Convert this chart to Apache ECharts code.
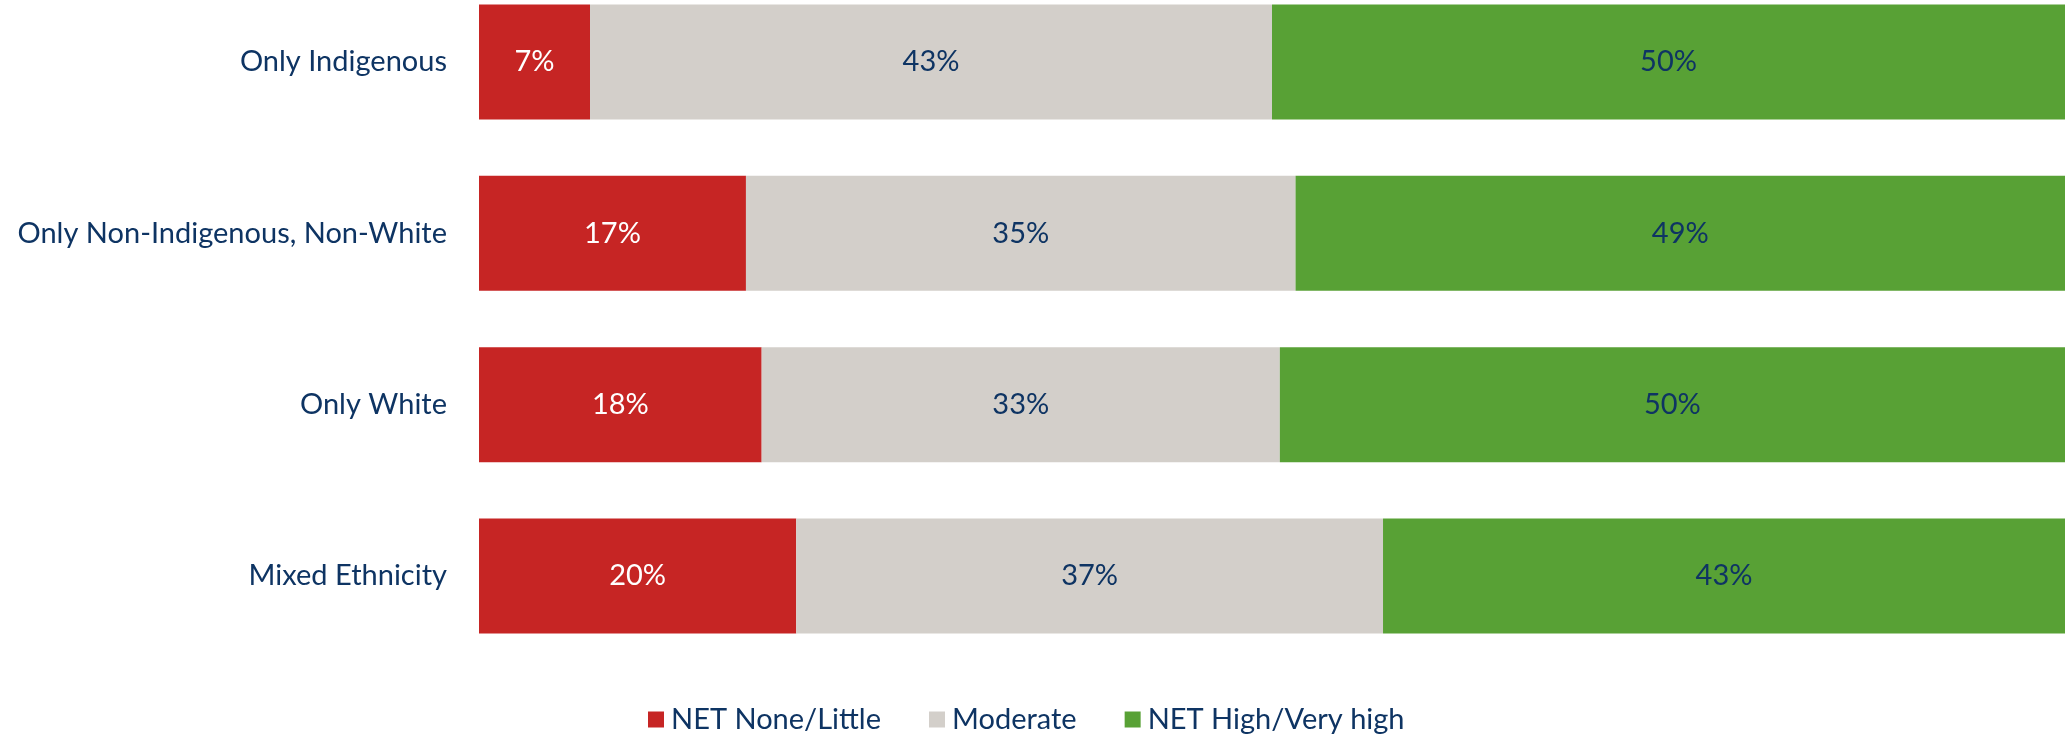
<!DOCTYPE html>
<html>
<head>
<meta charset="utf-8">
<script src="https://cdn.jsdelivr.net/npm/echarts@6/dist/echarts.min.js"></script>
<style>
  html, body { margin: 0; padding: 0; background: #ffffff; }
  #chart { width: 2068px; height: 734px; }
</style>
</head>
<body>
<div id="chart"></div>
<script>
// Groups, top to bottom
const groups = ['Only Indigenous', 'Only Non-Indigenous, Non-White', 'Only White', 'Mixed Ethnicity'];
// Shares per group (%)
const noneLittle = [7, 17, 18, 20];
const moderate = [43, 35, 33, 37];
const highVeryHigh = [50, 49, 50, 43];
const seriesNames = ['NET None/Little', 'Moderate', 'NET High/Very high'];

const NAVY = '#0E3463';
const FONT = 'Lato, "Open Sans", sans-serif';
const FONT_SIZE = 29;

// Each bar is drawn as a 100% stacked bar: segment width = share of the row total
const rowTotals = groups.map((_, i) => noneLittle[i] + moderate[i] + highVeryHigh[i]);
function toSeries(name, values, color, labelColor) {
  return {
    name: name,
    type: 'bar',
    stack: 'total',
    barWidth: 115,
    itemStyle: { color: color },
    label: {
      show: true,
      position: 'inside',
      color: labelColor,
      fontFamily: FONT,
      fontSize: FONT_SIZE,
      formatter: p => values[p.dataIndex] + '%'
    },
    data: values.map((v, i) => v / rowTotals[i] * 100)
  };
}

const chart = echarts.init(document.getElementById('chart'));
chart.setOption({
  animation: false,
  legend: {
    left: 643,
    top: 700,
    itemWidth: 16,
    itemHeight: 16,
    itemGap: 48,
    icon: 'rect',
    textStyle: { color: NAVY, fontFamily: FONT, fontSize: FONT_SIZE, padding: [0, 0, 0, 2] },
    data: seriesNames
  },
  // Category centres sit on the grid edges (boundaryGap off), one row every ~171px
  grid: { left: 479, right: 3, top: 62, height: 514 },
  xAxis: {
    type: 'value',
    min: 0,
    max: 100,
    show: false
  },
  yAxis: {
    type: 'category',
    inverse: true,
    boundaryGap: false,
    data: groups,
    axisLine: { show: false },
    axisTick: { show: false },
    splitLine: { show: false },
    axisLabel: { color: NAVY, fontFamily: FONT, fontSize: FONT_SIZE, margin: 32 }
  },
  series: [
    toSeries(seriesNames[0], noneLittle, '#C62524', '#FFFFFF'),
    toSeries(seriesNames[1], moderate, '#D3CFCA', NAVY),
    toSeries(seriesNames[2], highVeryHigh, '#58A135', NAVY)
  ]
});
</script>
</body>
</html>
